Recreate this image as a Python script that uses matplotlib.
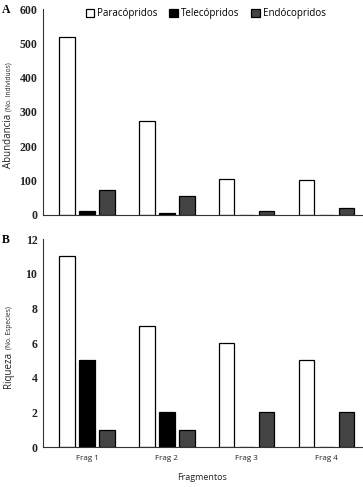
import matplotlib
matplotlib.use("Agg")
import matplotlib.pyplot as plt
import numpy as np

fragmentos = ["Frag 1", "Frag 2", "Frag 3", "Frag 4"]
grupos = ["Paracópridos", "Telecópridos", "Endócopridos"]
abundancia = {
    "Paracópridos": [517, 275, 104, 103],
    "Telecópridos": [13, 5, 0, 0],
    "Endócopridos": [72, 56, 13, 21],
}
riqueza = {
    "Paracópridos": [11, 7, 6, 5],
    "Telecópridos": [5, 2, 0, 0],
    "Endócopridos": [1, 1, 2, 2],
}
colores = {"Paracópridos": "white", "Telecópridos": "black", "Endócopridos": "#444444"}

W, H = 363, 487
fig = plt.figure(figsize=(W / 100, H / 100), dpi=100)

def px_axes(l, t, r, b):
    return fig.add_axes([l / W, 1 - b / H, (r - l) / W, (b - t) / H])

axA = px_axes(43, 9, 362, 215)
axB = px_axes(43, 239, 362, 447)

x = np.arange(len(fragmentos))
step = 0.25
width = 0.19

for ax, data in [(axA, abundancia), (axB, riqueza)]:
    for i, g in enumerate(grupos):
        ax.bar(x + (i - 1) * step, data[g], width, color=colores[g],
               edgecolor="black", linewidth=0.9, label=g)
    ax.set_xlim(-0.55, 3.44)
    for s in ["top", "right"]:
        ax.spines[s].set_visible(False)
    for s in ["left", "bottom"]:
        ax.spines[s].set_color("#333333")
        ax.spines[s].set_linewidth(0.8)
    ax.tick_params(axis="both", length=0)

axA.set_ylim(0, 600)
axA.set_yticks(range(0, 601, 100))
axA.set_xticks([])
axB.set_ylim(0, 12)
axB.set_yticks(range(0, 13, 2))
axB.set_xticks(x)
axB.set_xticklabels(fragmentos, fontsize=5.8, family="Open Sans", color="#222222")
axB.tick_params(axis="x", pad=6)

for ax in (axA, axB):
    ax.tick_params(axis="y", pad=4)
    for lab in ax.get_yticklabels():
        lab.set_fontfamily("Liberation Serif")
        lab.set_fontweight("bold")
        lab.set_fontsize(8.5)
        lab.set_color("#222222")

axB.set_xlabel("Fragmentos", fontsize=6.5, family="Open Sans", labelpad=8, color="#222222")

# y labels with mixed sizes, sharing a baseline
fig.canvas.draw()
renderer = fig.canvas.get_renderer()

def ylabel_mixed(big, small, y_start):
    xb = 11 / W
    t1 = fig.text(xb, 1 - y_start / H, big, rotation=90, rotation_mode="anchor",
                  ha="left", va="baseline", fontsize=7, family="Open Sans", color="#222222")
    bb = t1.get_window_extent(renderer)
    y2 = (bb.y1 + 3) / fig.bbox.height
    fig.text(xb, y2, small, rotation=90, rotation_mode="anchor",
             ha="left", va="baseline", fontsize=4.8, family="Open Sans", color="#222222")

ylabel_mixed("Abundancia", "(No. Individuos)", 168)
ylabel_mixed("Riqueza", "(No. Especies)", 388)

fig.text(2 / W, 1 - 10 / H, "A", fontsize=8.5, family="Liberation Serif", fontweight="bold",
         ha="left", va="center")
fig.text(2 / W, 1 - 240 / H, "B", fontsize=8.5, family="Liberation Serif", fontweight="bold",
         ha="left", va="center")

axA.legend(loc="upper center", bbox_to_anchor=(0.51, 1.045), ncol=3, frameon=False,
           prop={"family": "Open Sans", "size": 7}, handlelength=0.9, handleheight=0.9,
           handletextpad=0.3, columnspacing=1.2)

fig.savefig("out.png", dpi=100)
